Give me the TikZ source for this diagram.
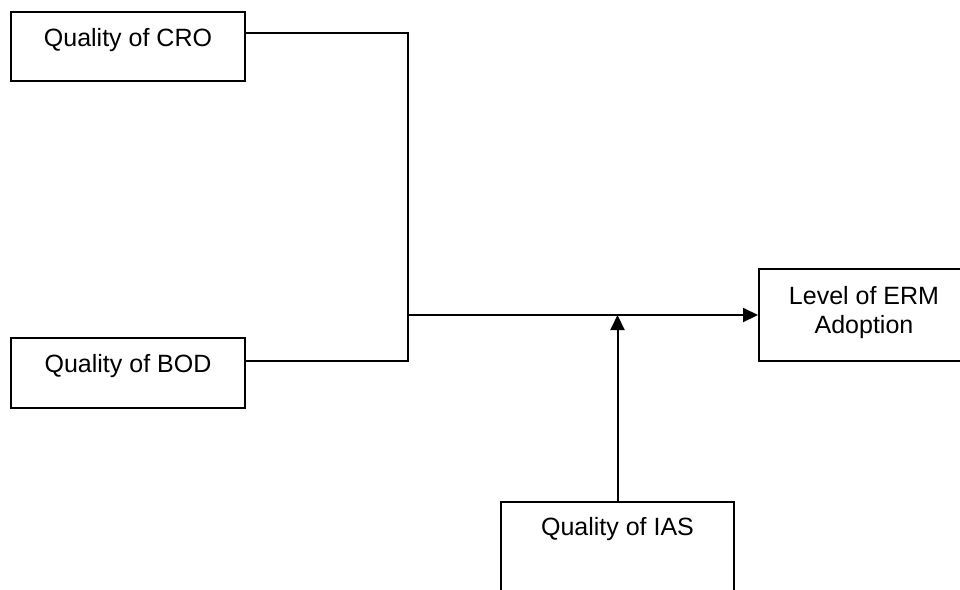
\documentclass[tikz,border=0pt]{standalone}
\usepackage{fontspec}
\setmainfont{Liberation Sans}
\usetikzlibrary{arrows.meta,positioning,calc}
\begin{document}
\begin{tikzpicture}[x=1pt,y=-1pt,
  box/.style={draw, line width=2pt, rectangle, inner sep=0pt},
  lbl/.style={anchor=base, inner sep=0pt, font=\fontsize{25}{29}\selectfont},
  conn/.style={line width=2pt},
  arr/.style={line width=2pt, -{Triangle[length=15pt,width=14pt]}}]
\useasboundingbox (0,0) rectangle (960,589);
\clip (0,0) rectangle (960,589);
% boxes
\node[box, minimum width=234pt, minimum height=69pt] (cro) at (128,46.5) {};
\node[box, minimum width=234pt, minimum height=70pt] (bod) at (128,373) {};
\node[box, minimum width=210pt, minimum height=92pt] (erm) at (864,315) {};
\node[box, minimum width=233pt, minimum height=130pt] (ias) at (617.5,567) {};
% labels
\node[lbl] (tcro) at (128,46) {Quality of CRO};
\node[lbl] (tbod) at (128,372) {Quality of BOD};
\node[lbl] (term1) at (864,304) {Level of ERM};
\node[lbl] (term2) at (864,333) {Adoption};
\node[lbl] (tias) at (617.5,535) {Quality of IAS};
% junction
\coordinate (j) at (408,315);
% connectors
\draw[conn] ([yshift=-22pt]cro.north east) -| (j);
\draw[conn] ([yshift=-24pt]bod.north east) -| (j);
\draw[arr] (j) -- (erm.west);
\draw[arr] (ias.north) -- (ias.north |- j);
\end{tikzpicture}
\end{document}
